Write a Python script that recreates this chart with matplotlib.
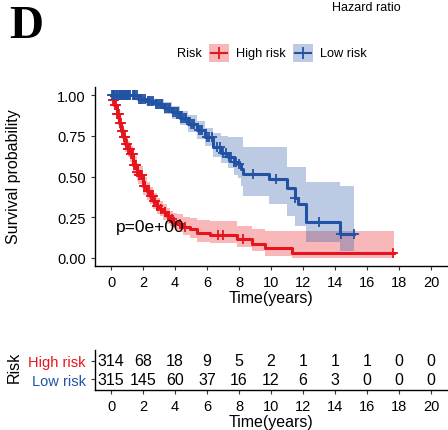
import numpy as np
import matplotlib
matplotlib.use("Agg")
import matplotlib.pyplot as plt
from matplotlib.patches import Rectangle
from matplotlib.lines import Line2D

plt.rcParams['font.family'] = ['Liberation Sans', 'DejaVu Sans']

# Kaplan-Meier curves (time in years, survival, CI)
high_t = [0, 0.1, 0.2, 0.35, 0.5, 0.65, 0.77, 0.9, 1.05, 1.19, 1.4, 1.6, 1.71, 2.0, 2.23, 2.44,
          2.65, 2.85, 3.05, 3.27, 3.5, 3.7, 3.9, 4.1, 4.5, 4.94, 5.36, 6.19, 7.85, 8.8, 9.6, 11.3, 17.7]
high_s = [1.0, 0.97, 0.94, 0.885, 0.83, 0.78, 0.742, 0.70, 0.67, 0.64, 0.57, 0.53, 0.51, 0.44, 0.41, 0.38,
          0.35, 0.32, 0.30, 0.28, 0.255, 0.24, 0.222, 0.209, 0.19, 0.178, 0.151, 0.143, 0.117, 0.086, 0.059, 0.029, 0.029]
high_up = [1.0, 0.99, 0.965, 0.92, 0.87, 0.825, 0.79, 0.75, 0.72, 0.69, 0.625, 0.585, 0.565, 0.495, 0.465, 0.435,
           0.40, 0.37, 0.35, 0.33, 0.305, 0.29, 0.275, 0.27, 0.25, 0.245, 0.235, 0.225, 0.198, 0.178, 0.164, 0.164, 0.164]
high_lo = [1.0, 0.95, 0.915, 0.85, 0.79, 0.735, 0.695, 0.65, 0.62, 0.59, 0.515, 0.475, 0.455, 0.385, 0.355, 0.33,
           0.30, 0.27, 0.255, 0.235, 0.21, 0.195, 0.18, 0.16, 0.14, 0.125, 0.10, 0.09, 0.066, 0.041, 0.014, 0.0, 0.0]
high_cens = [0.12, 0.18, 0.25, 0.3, 0.38, 0.42, 0.47, 0.55, 0.6, 0.68, 0.72, 0.8, 0.84, 0.88, 0.95, 1.0,
             1.08, 1.12, 1.16, 1.25, 1.3, 1.36, 1.45, 1.5, 1.55, 1.65, 1.75, 1.8, 1.9, 1.95, 2.05, 2.1,
             2.15, 2.3, 2.35, 2.5, 2.55, 2.6, 2.7, 2.75, 2.9, 2.95, 3.1, 3.15, 3.35, 3.4, 3.6, 3.8, 3.95,
             4.3, 4.6, 6.7, 7.0, 8.27, 17.6]

low_t = [0, 1.3, 1.7, 2.2, 2.75, 3.3, 3.79, 4.3, 4.83, 5.35, 5.87, 6.4, 6.9, 7.33, 7.7, 7.96, 8.1, 8.27,
         9.85, 11.0, 11.5, 11.7, 12.2, 14.3, 15.2]
low_s = [1.0, 1.0, 0.977, 0.962, 0.947, 0.92, 0.896, 0.86, 0.824, 0.785, 0.742, 0.68, 0.645, 0.617, 0.59, 0.577, 0.545, 0.515,
         0.482, 0.43, 0.37, 0.33, 0.222, 0.147, 0.147]
low_up = [1.0, 1.0, 0.995, 0.985, 0.975, 0.955, 0.935, 0.905, 0.875, 0.84, 0.80, 0.77, 0.75, 0.74, 0.74, 0.74, 0.74, 0.68,
          0.68, 0.556, 0.556, 0.556, 0.464, 0.44, 0.44]
low_lo = [1.0, 0.995, 0.96, 0.94, 0.92, 0.885, 0.855, 0.815, 0.775, 0.73, 0.685, 0.62, 0.58, 0.55, 0.51, 0.49, 0.44, 0.382,
          0.33, 0.26, 0.198, 0.198, 0.098, 0.045, 0.045]
low_cens = [0.08, 0.15, 0.2, 0.28, 0.35, 0.4, 0.48, 0.55, 0.6, 0.68, 0.75, 0.8, 0.88, 0.95, 1.0, 1.08, 1.15,
            1.2, 1.35, 1.45, 1.5, 1.6, 1.75, 1.85, 1.9, 2.0, 2.1, 2.3, 2.4, 2.5, 2.6, 2.8, 2.9, 3.0, 3.1,
            3.2, 3.4, 3.5, 3.6, 3.7, 3.9, 4.0, 4.1, 4.2, 4.4, 4.5, 4.6, 4.7, 5.0, 5.1, 5.2, 5.5, 5.6, 5.7,
            6.0, 6.1, 6.3, 6.6, 6.8, 7.0, 7.2, 7.4, 7.5, 7.7, 7.8, 8.0, 8.9, 10.3, 11.5, 13.0, 14.4, 15.2]

# number at risk table
risk_times = [0, 2, 4, 6, 8, 10, 12, 14, 16, 18, 20]
high_risk = [314, 68, 18, 9, 5, 2, 1, 1, 1, 0, 0]
low_risk = [315, 145, 60, 37, 16, 12, 6, 3, 0, 0, 0]
groups = ['High risk', 'Low risk']

RED = '#E8141C'
BLUE = '#2152A3'
W, H = 448, 431


def step_value(t, times, surv):
    idx = np.searchsorted(times, t, side='right') - 1
    return np.array(surv)[idx]


def style_axis(ax):
    for s in ['top', 'right']:
        ax.spines[s].set_visible(False)
    for s in ['left', 'bottom']:
        ax.spines[s].set_linewidth(1.0)
    ax.tick_params(direction='out', length=3, width=0.8, colors='#333333', labelcolor='black')


def draw_group(ax, t, s, up, lo, cens, color):
    ax.fill_between(t, lo, up, step='post', color=color, alpha=0.3, linewidth=0)
    ax.step(t, s, where='post', color=color, linewidth=2.2)
    cens = np.array(cens)
    ax.plot(cens, step_value(cens, t, s), linestyle='none', marker='+', color=color,
            markersize=7, markeredgewidth=1.3)


def legend_key(fig, x0, color, label):
    # key box with line and + like ggplot, x0 in pixels
    fig.add_artist(Rectangle((x0 / W, 1 - 63 / H), 20 / W, 18 / H, transform=fig.transFigure,
                             facecolor=color, alpha=0.3, linewidth=0))
    fig.add_artist(Line2D([(x0 + 2) / W, (x0 + 18) / W], [1 - 54 / H, 1 - 54 / H], transform=fig.transFigure,
                          color=color, linewidth=1.5))
    fig.add_artist(Line2D([(x0 + 10) / W], [1 - 54 / H], transform=fig.transFigure, color=color,
                          marker='+', markersize=8, markeredgewidth=1.3))
    fig.text((x0 + 27) / W, 1 - 54 / H, label, fontsize=9.2, ha='left', va='center')


fig = plt.figure(figsize=(W / 100, H / 100), dpi=100)

ax = fig.add_axes([95 / W, 1 - 267 / H, 352 / W, 179 / H])
draw_group(ax, high_t, high_s, high_up, high_lo, high_cens, RED)
draw_group(ax, low_t, low_s, low_up, low_lo, low_cens, BLUE)
ax.set_xlim(-1, 21)
ax.set_ylim(-0.05, 1.05)
ax.set_xticks(risk_times)
ax.set_yticks([0, 0.25, 0.5, 0.75, 1.0])
ax.set_yticklabels(['0.00', '0.25', '0.50', '0.75', '1.00'])
ax.tick_params(labelsize=10.5)
style_axis(ax)
ax.set_xlabel('Time(years)', fontsize=11.5, labelpad=1)
ax.text(0.3, 0.19, 'p=0e+00', fontsize=12.5, ha='left', va='center')

fig.text(14 / W, 1 - 177 / H, 'Survival probability', rotation=90, fontsize=11.5,
         ha='center', va='center')

# risk table
tab = fig.add_axes([95 / W, 1 - 391 / H, 352 / W, 40 / H])
tab.set_xlim(-1, 21)
tab.set_ylim(0.4, 2.6)
for x, h, l in zip(risk_times, high_risk, low_risk):
    tab.text(x, 2, str(h), ha='center', va='center', fontsize=11.5)
    tab.text(x, 1, str(l), ha='center', va='center', fontsize=11.5)
tab.set_xticks(risk_times)
tab.set_yticks([2, 1])
tab.set_yticklabels(groups)
style_axis(tab)
tab.tick_params(labelsize=10.5)
tab.get_yticklabels()[0].set_color(RED)
tab.get_yticklabels()[1].set_color(BLUE)
tab.set_xlabel('Time(years)', fontsize=11.5, labelpad=1)
fig.text(14 / W, 1 - 367 / H, 'Risk', rotation=90, fontsize=11.5, ha='center', va='center')

# legend and titles
fig.text(177 / W, 1 - 54 / H, 'Risk', fontsize=9.2, ha='left', va='center')
legend_key(fig, 209, RED, groups[0])
legend_key(fig, 293, BLUE, groups[1])
fig.text(366 / W, 1 - 8 / H, 'Hazard ratio', fontsize=9, ha='center', va='center')
fig.text(9 / W, 1 - 27 / H, 'D', fontsize=34, fontweight='bold', family='Liberation Serif',
         ha='left', va='center')

plt.savefig('out.png', dpi=100)
